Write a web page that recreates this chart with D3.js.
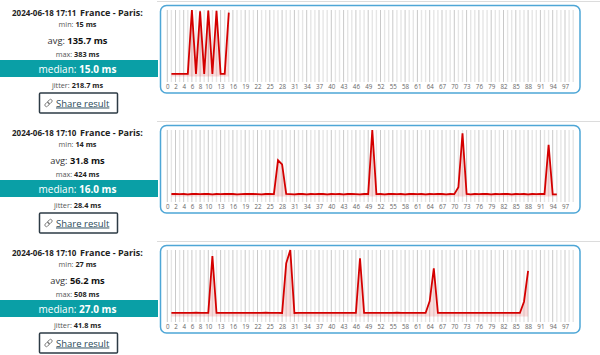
<!DOCTYPE html>
<html><head><meta charset="utf-8">
<script src="https://cdn.jsdelivr.net/npm/d3@7"></script>
<style>body{margin:0;background:#fff}svg{display:block;font-family:"Open Sans",sans-serif}</style>
</head><body><svg id="c" width="600" height="355"></svg>
<script>
// ---- data ----
const times = ["2024-06-18 17:11", "2024-06-18 17:10", "2024-06-18 17:10"];
const locations = ["France - Paris:", "France - Paris:", "France - Paris:"];
const mins = [15, 14, 27];
const avgs = [135.7, 31.8, 56.2];
const maxs = [383, 424, 508];
const medians = [15.0, 16.0, 27.0];
const jitters = [218.7, 28.4, 41.8];
const slotCount = 100;
const tickLabels = [0,2,4,6,8,10,13,16,19,22,25,28,31,34,37,40,43,46,49,52,55,58,61,64,67,70,73,76,79,82,85,88,91,94,97];
const startIndex = [1, 1, 1];
const series1 = [15,15,15,15,15,383,15,375,15,380,15,379,15,15,368];
const series2 = [
 16,16,15,16,14,16,16,15,16,16,14,16,15,16,16,16,14,15,16,16,16,15,14,16,16,15,
 231,205,
 16,15,14,16,16,14,16,15,16,16,14,16,15,16,14,16,16,15,14,16,16,
 424,
 15,16,14,16,16,15,16,14,16,16,15,16,14,16,15,16,16,14,16,15,
 59,403,
 16,14,16,15,16,16,14,16,15,16,16,14,16,15,16,14,16,15,16,16,
 330,
 14,14];
const series3 = [
 27,27,28,27,27,27,29,27,27,28,
 462,
 27,27,28,27,27,27,27,28,27,27,27,27,29,27,27,28,27,
 406,508,
 27,28,27,27,27,27,28,27,27,27,27,28,27,27,27,27,
 445,
 27,27,27,28,27,27,27,27,29,27,27,28,27,27,27,27,
 118,368,
 27,27,28,27,27,27,27,27,28,27,27,27,27,28,27,27,27,27,28,27,27,
 113,348];
const seriesList = [series1, series2, series3];

// ---- layout ----
const svg = d3.select("#c");
const panelH = 120;
const x = d3.scaleLinear().domain([0, slotCount - 1]).range([167.3, 573.2]);
const slots = d3.range(slotCount);
const tickSet = new Set(tickLabels);

seriesList.forEach((series, p) => {
  const g = svg.append("g").attr("transform", `translate(0,${p * panelH})`);
  // separator
  g.append("line").attr("x1", 157).attr("x2", 600).attr("y1", 1.5).attr("y2", 1.5)
    .attr("stroke", "#dcdcdc").attr("stroke-width", 1);

  // ---- left info ----
  const cx = 77.5;
  g.append("text").attr("x", 12).attr("y", 15.5).attr("font-size", 8).attr("font-weight", 700)
    .attr("fill", "#222").text(times[p]);
  g.append("text").attr("x", 80).attr("y", 15.5).attr("font-size", 9).attr("font-weight", 700)
    .attr("fill", "#222").text(locations[p]);

  function stat(y, label, value, size, color, valColor) {
    const t = g.append("text").attr("x", cx).attr("y", y).attr("text-anchor", "middle")
      .attr("font-size", size).attr("fill", color);
    t.append("tspan").text(label + ": ");
    t.append("tspan").attr("font-weight", 700).attr("fill", valColor).text(value);
  }
  stat(27, "min", mins[p] + " ms", 7.3, "#555", "#222");
  stat(43.5, "avg", avgs[p].toFixed(1) + " ms", 9.3, "#333", "#111");
  stat(56.5, "max", maxs[p] + " ms", 7.3, "#555", "#222");
  g.append("rect").attr("x", 0).attr("y", 60).attr("width", 158).attr("height", 17).attr("fill", "#0a9fa6");
  stat(72.5, "median", medians[p].toFixed(1) + " ms", 10, "#fff", "#fff");
  stat(88, "jitter", jitters[p].toFixed(1) + " ms", 7.3, "#555", "#222");

  // share button
  g.append("rect").attr("x", 39.5).attr("y", 93).attr("width", 78).attr("height", 20)
    .attr("fill", "#fff").attr("stroke", "#2d3b45").attr("stroke-width", 1.5).attr("rx", 1);
  const icon = g.append("g").attr("transform", "translate(48.5,103) rotate(-45)")
    .attr("fill", "none").attr("stroke", "#777").attr("stroke-width", 0.9);
  icon.append("rect").attr("x", -4.5).attr("y", -1.6).attr("width", 5).attr("height", 3.2).attr("rx", 1.6);
  icon.append("rect").attr("x", -0.5).attr("y", -1.6).attr("width", 5).attr("height", 3.2).attr("rx", 1.6);
  g.append("text").attr("x", 56).attr("y", 106.5).attr("font-size", 9.5).attr("fill", "#2b4a5a")
    .attr("text-decoration", "underline").text("Share result");

  // ---- chart box ----
  g.append("rect").attr("x", 160.5).attr("y", 5.5).attr("width", 419.5).attr("height", 87.5)
    .attr("rx", 6).attr("fill", "#fff").attr("stroke", "#4ea6d6").attr("stroke-width", 1.5);

  const y = d3.scaleLinear().domain([0, maxs[p]]).range([76.5, 10]);

  // grid / slot lines
  g.append("g").selectAll("line").data(slots).join("line")
    .attr("x1", d => x(d)).attr("x2", d => x(d)).attr("y1", 10).attr("y2", 82)
    .attr("stroke", d => tickSet.has(d) ? "#c9c9c9" : "#e6e6e6")
    .attr("stroke-width", d => tickSet.has(d) ? 1 : 1.4);

  // x axis labels
  const axis = d3.axisBottom(x).tickValues(tickLabels).tickSize(0).tickPadding(0).tickFormat(d3.format("d"));
  const ax = g.append("g").attr("transform", "translate(0,85)").call(axis);
  ax.select(".domain").remove();
  ax.selectAll("text").attr("font-size", 6.2).attr("fill", "#666").attr("font-family", "Open Sans, sans-serif");

  const pts = series.map((v, i) => [startIndex[p] + i, v]);
  g.append("path").datum(pts)
    .attr("d", d3.area().x(d => x(d[0])).y0(y(0)).y1(d => y(d[1])))
    .attr("fill", "rgba(230,60,60,0.18)");
  g.append("path").datum(pts)
    .attr("d", d3.line().x(d => x(d[0])).y(d => y(d[1])))
    .attr("fill", "none").attr("stroke", "#d40000").attr("stroke-width", 1.8).attr("stroke-linejoin", "miter");
});
</script></body></html>
